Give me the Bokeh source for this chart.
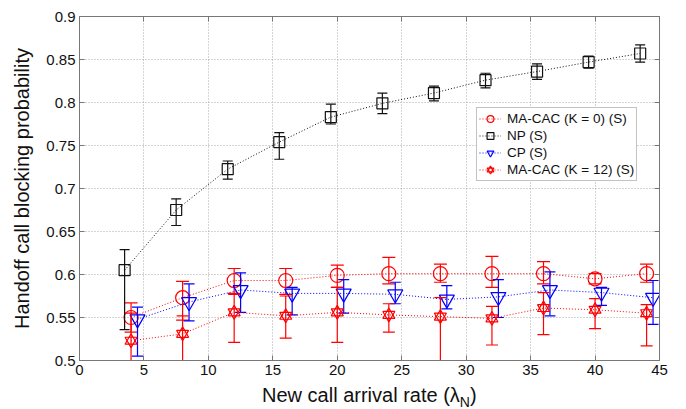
from bokeh.plotting import figure
from bokeh.layouts import column
from bokeh.models import (LinearAxis, Legend, LegendItem, Div, FixedTicker,
                          Range1d, CustomJSTickFormatter)
from bokeh.embed import file_html
from bokeh.resources import INLINE

# ---------------- data ----------------
x_ticks = [0, 5, 10, 15, 20, 25, 30, 35, 40, 45]
y_ticks = [0.5, 0.55, 0.6, 0.65, 0.7, 0.75, 0.8, 0.85, 0.9]

# arrival rates
x_macac = [4, 8, 12, 16, 20, 24, 28, 32, 36, 40, 44]
x_np = [3.5, 7.5, 11.5, 15.5, 19.5, 23.5, 27.5, 31.5, 35.5, 39.5, 43.5]
x_cp = [4.5, 8.5, 12.5, 16.5, 20.5, 24.5, 28.5, 32.5, 36.5, 40.5, 44.5]

# MA-CAC (K = 0) (S)
macac0_y = [0.550, 0.573, 0.593, 0.593, 0.599, 0.601, 0.601, 0.601, 0.601, 0.595, 0.601]
macac0_lo = [0.533, 0.547, 0.578, 0.577, 0.585, 0.589, 0.591, 0.585, 0.589, 0.589, 0.591]
macac0_hi = [0.567, 0.592, 0.607, 0.607, 0.611, 0.620, 0.612, 0.621, 0.615, 0.601, 0.612]

# NP (S)
np_y = [0.605, 0.675, 0.7225, 0.754, 0.783, 0.799, 0.811, 0.826, 0.836, 0.847, 0.857]
np_lo = [0.536, 0.657, 0.711, 0.734, 0.775, 0.787, 0.802, 0.817, 0.827, 0.840, 0.847]
np_hi = [0.629, 0.688, 0.732, 0.765, 0.798, 0.811, 0.819, 0.834, 0.845, 0.854, 0.867]

# CP (S)
cp_y = [0.548, 0.568, 0.582, 0.578, 0.578, 0.577, 0.571, 0.574, 0.582, 0.579, 0.573]
cp_lo = [0.505, 0.546, 0.556, 0.553, 0.555, 0.566, 0.560, 0.550, 0.552, 0.564, 0.542]
cp_hi = [0.562, 0.589, 0.602, 0.585, 0.594, 0.591, 0.587, 0.594, 0.603, 0.585, 0.593]

# MA-CAC (K = 12) (S)
macac12_y = [0.523, 0.531, 0.556, 0.552, 0.556, 0.553, 0.551, 0.549, 0.561, 0.559, 0.555]
macac12_lo = [0.490, 0.490, 0.521, 0.526, 0.521, 0.533, 0.490, 0.518, 0.530, 0.537, 0.517]
macac12_hi = [0.555, 0.552, 0.577, 0.575, 0.585, 0.566, 0.573, 0.563, 0.579, 0.572, 0.565]

series_labels = ["MA-CAC (K = 0) (S)", "NP (S)", "CP (S)", "MA-CAC (K = 12) (S)"]

RED = "#ff0000"
BLUE = "#0000ff"
BLACK = "#111111"
AXC = "#777777"
FONT = "Liberation Sans"

# ---------------- figure ----------------
p = figure(width=686, height=384, output_backend="svg", toolbar_location=None,
           x_range=Range1d(0, 45), y_range=Range1d(0.5, 0.9),
           min_border_left=79, min_border_top=16, min_border_right=27,
           min_border_bottom=24)
p.outline_line_color = AXC
p.background_fill_color = "white"
p.border_fill_color = "white"

for ax in p.xaxis:
    ax.ticker = FixedTicker(ticks=x_ticks)
for ax in p.yaxis:
    ax.ticker = FixedTicker(ticks=y_ticks)
    ax.axis_label = "Handoff call blocking probability"
    ax.axis_label_text_font = FONT
    ax.axis_label_text_font_size = "20px"
    ax.axis_label_text_font_style = "normal"
    ax.axis_label_text_color = "#111111"
    ax.axis_label_standoff = 10

for ax in p.axis:
    ax.major_label_text_font = FONT
    ax.major_label_text_font_size = "15px"
    ax.major_label_text_color = "#111111"
    ax.major_tick_in = 5
    ax.major_tick_out = 0
    ax.minor_tick_in = 0
    ax.minor_tick_out = 0
    ax.axis_line_color = AXC
    ax.major_tick_line_color = AXC
    ax.major_label_standoff = 4

# top & right boxes with inward ticks
top_ax = LinearAxis(ticker=FixedTicker(ticks=x_ticks),
                    formatter=CustomJSTickFormatter(code="return ''"))
right_ax = LinearAxis(ticker=FixedTicker(ticks=y_ticks),
                      formatter=CustomJSTickFormatter(code="return ''"))
for ax in (top_ax, right_ax):
    ax.major_tick_in = 5
    ax.major_tick_out = 0
    ax.minor_tick_in = 0
    ax.minor_tick_out = 0
    ax.major_label_standoff = 0
    ax.axis_line_color = AXC
    ax.major_tick_line_color = AXC
p.add_layout(top_ax, "above")
p.add_layout(right_ax, "right")

p.xgrid.ticker = FixedTicker(ticks=x_ticks)
p.ygrid.ticker = FixedTicker(ticks=y_ticks)
p.grid.grid_line_color = "#a8a8a8"
p.grid.grid_line_dash = "1 2"
p.grid.grid_line_width = 1


def errbars(xs, lo, hi, color, cap):
    p.segment(x0=xs, y0=lo, x1=xs, y1=hi, line_color=color, line_width=1.2)
    p.scatter(x=xs, y=lo, marker="dash", size=cap, line_color=color, line_width=1.2)
    p.scatter(x=xs, y=hi, marker="dash", size=cap, line_color=color, line_width=1.2)


# MA-CAC K=0
errbars(x_macac, macac0_lo, macac0_hi, RED, 13)
l_c = p.line(x_macac, macac0_y, line_color=RED, line_dash="1 2", line_width=1)
m_c = p.scatter(x_macac, macac0_y, marker="circle", size=14, fill_color=None,
                line_color=RED, line_width=1.2)

# NP
errbars(x_np, np_lo, np_hi, BLACK, 10)
l_n = p.line(x_np, np_y, line_color=BLACK, line_dash="1 2", line_width=1)
m_n = p.scatter(x_np, np_y, marker="square", size=11, fill_color=None,
                line_color=BLACK, line_width=1.2)

# CP
errbars(x_cp, cp_lo, cp_hi, BLUE, 11)
l_p = p.line(x_cp, cp_y, line_color=BLUE, line_dash="1 2", line_width=1)
m_p = p.scatter(x_cp, cp_y, marker="inverted_triangle", size=15, fill_color=None,
                line_color=BLUE, line_width=1.2)

# MA-CAC K=12 (hexagram = two triangles)
errbars(x_macac, macac12_lo, macac12_hi, RED, 12)
l_s = p.line(x_macac, macac12_y, line_color=RED, line_dash="1 2", line_width=1)
m_s1 = p.scatter(x_macac, macac12_y, marker="triangle", size=12, fill_color=None,
                 line_color=RED, line_width=1.2)
m_s2 = p.scatter(x_macac, macac12_y, marker="inverted_triangle", size=12, fill_color=None,
                 line_color=RED, line_width=1.2)

legend = Legend(items=[
    LegendItem(label=series_labels[0], renderers=[l_c, m_c]),
    LegendItem(label=series_labels[1], renderers=[l_n, m_n]),
    LegendItem(label=series_labels[2], renderers=[l_p, m_p]),
    LegendItem(label=series_labels[3], renderers=[l_s, m_s1, m_s2]),
], location=(397, 179))
legend.label_text_font = FONT
legend.label_text_font_size = "13.5px"
legend.label_text_color = "#111111"
legend.glyph_width = 22
legend.glyph_height = 17
legend.label_height = 17
legend.spacing = 0
legend.padding = 2
legend.margin = 0
legend.label_standoff = 6
legend.border_line_color = "#888888"
legend.border_line_width = 1
legend.background_fill_color = "white"
legend.background_fill_alpha = 1
p.add_layout(legend)

# x axis label with a real subscript, placed under the plot
xlabel = Div(
    text=('<div style="font-family:\'Liberation Sans\',Arial,sans-serif;'
          'font-size:20px;color:#111111;white-space:nowrap;'
          'padding-left:262px;line-height:22px;">'
          'New call arrival rate (\u03bb<sub style="font-size:14px;'
          'vertical-align:-5px;line-height:0;">N</sub>)</div>'),
    width=686, height=25, margin=0)

layout = column(p, xlabel, spacing=0)
open("out.html", "w").write(file_html(layout, INLINE))
